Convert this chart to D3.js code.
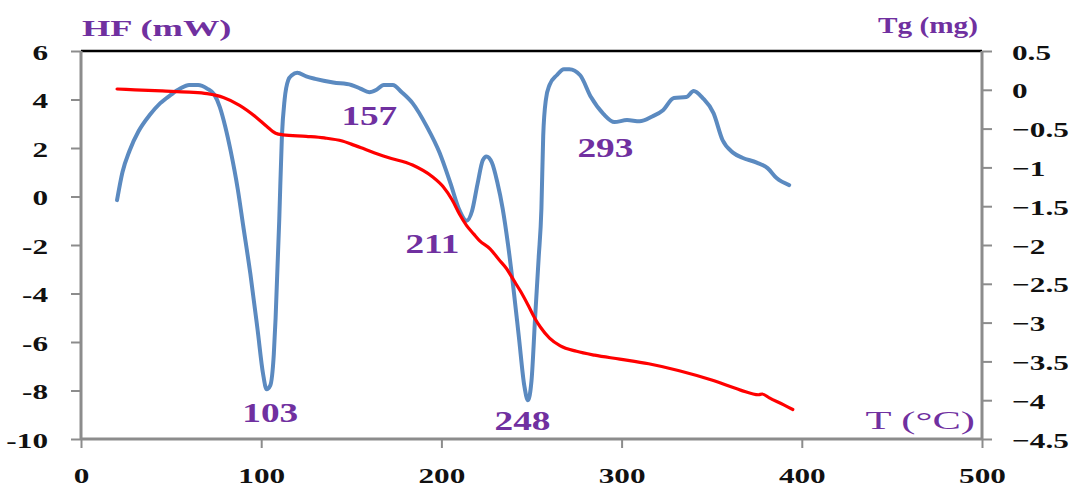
<!DOCTYPE html>
<html><head><meta charset="utf-8">
<script src="https://cdn.jsdelivr.net/npm/d3@7"></script>
<style>body{margin:0;background:#fff}svg{display:block}</style>
</head><body>
<svg id="c" width="1071" height="491"></svg>
<script>
// ---- data ----
const hfT = [20,23,27,32,38,44,50,55,60,65,70,74,77,80,83,87,90,94,98,101,103,105,107,108,110,111.5,113,115,117,120,125,130,140,150,155,160,164,168,173,178,184,192,199,205,210,214,217,220,223,225,228,231,234,237,240,243,246,248,250,252,254,255.5,256.5,258,260,264,268,271,277,283,290,296,303,310,317,323,329,336,340,345,351,356,362,367,375,381,386,393];
const hfV = [-0.15,1.0,1.9,2.7,3.35,3.85,4.2,4.45,4.6,4.6,4.45,4.2,3.7,2.9,1.9,0.3,-1.2,-3.2,-5.5,-7.3,-7.95,-7.8,-6.5,-5.0,-1.0,2.5,4.0,4.8,5.0,5.1,4.95,4.85,4.7,4.6,4.45,4.3,4.4,4.6,4.6,4.3,3.85,2.87,1.8,0.55,-0.56,-1.0,-0.6,0.5,1.5,1.65,1.4,0.6,-0.5,-2.0,-3.8,-5.8,-7.8,-8.4,-7.6,-5.0,-2.5,-0.5,2.5,4.0,4.6,5.0,5.25,5.25,5.0,4.1,3.4,3.07,3.15,3.1,3.3,3.56,4.06,4.1,4.35,4.06,3.44,2.33,1.8,1.6,1.4,1.17,0.76,0.47];
const tgT = [20,30,45,60,70,79,88,97,103,108,112,125,135,145,150,157,165,170,184,195,201,206,210,214,218,221,227,232,236,240,244,248,252,255,260,266,275,285,299,315,332,350,366,376,378,382,390,395];
const tgV = [0.01,0.0,-0.015,-0.03,-0.05,-0.1,-0.2,-0.35,-0.47,-0.56,-0.58,-0.6,-0.62,-0.66,-0.7,-0.76,-0.83,-0.87,-0.97,-1.12,-1.25,-1.42,-1.6,-1.75,-1.86,-1.94,-2.05,-2.19,-2.3,-2.45,-2.6,-2.77,-2.95,-3.06,-3.2,-3.3,-3.37,-3.42,-3.47,-3.53,-3.62,-3.74,-3.87,-3.93,-3.92,-3.97,-4.06,-4.12];
const xTicks = [0,100,200,300,400,500];
const hfTicks = [6,4,2,0,-2,-4,-6,-8,-10];
const tgTicks = [0.5,0,-0.5,-1,-1.5,-2,-2.5,-3,-3.5,-4,-4.5];
const peakLabels = ["103","157","211","248","293"];
const peakLabelT = [105,160,195,245,291];
const peakLabelHF = [-9.3,2.95,-2.35,-9.63,1.63];
const titles = {hf:"HF (mW)", tg:"Tg (mg)", t:"T (°C)"};

// ---- layout ----
const L=81, R=982, T=51, B=439;
const SX=1.42;
const purple="#7030a0", grey="#8c8c8c";
const svg=d3.select("#c");
const x=d3.scaleLinear().domain([0,500]).range([L,R]);
const yL=d3.scaleLinear().domain([-10,6]).range([B,T]);
const yR=d3.scaleLinear().domain([-4.5,0.5]).range([B,T]);

function stretch(sel,sx){
  sel.each(function(){
    const t=d3.select(this);
    const tx=+t.attr("data-x")||0, ty=+t.attr("data-y")||0;
    t.attr("transform",`translate(${tx},${ty}) scale(${sx||SX},1)`);
  });
}

// top border
svg.append("line").attr("x1",L).attr("x2",R).attr("y1",T).attr("y2",T).attr("stroke","#000").attr("stroke-width",2.5);

// axes
const ax=svg.append("g").attr("transform",`translate(0,${B})`)
  .call(d3.axisBottom(x).tickValues(xTicks).tickSize(9).tickFormat(d3.format("d")));
const ayl=svg.append("g").attr("transform",`translate(${L},0)`)
  .call(d3.axisLeft(yL).tickValues(hfTicks).tickSize(10).tickFormat(d=>String(d)));
const ayr=svg.append("g").attr("transform",`translate(${R},0)`)
  .call(d3.axisRight(yR).tickValues(tgTicks).tickSize(10).tickFormat(d=>String(d).replace("-","\u2212")));

[ax,ayl,ayr].forEach(g=>{
  g.select(".domain").attr("stroke",grey).attr("stroke-width",3);
  g.selectAll(".tick line").attr("stroke",grey).attr("stroke-width",2);
  g.selectAll(".tick text").attr("font-family","Liberation Serif, Times New Roman, serif").attr("font-weight","bold")
   .attr("font-size",22).attr("fill","#111").attr("dy",null).attr("x",null).attr("y",null);
});
ax.selectAll(".tick text").attr("text-anchor","middle").attr("data-x",0).attr("data-y",44).call(stretch);
ayl.selectAll(".tick text").attr("text-anchor","end").attr("data-x",-33).attr("data-y",8).call(stretch);
ayr.selectAll(".tick text").attr("text-anchor","start").attr("data-x",30).attr("data-y",8).call(stretch);
ax.select(".domain").attr("d",`M${L},0H${R}`);
ayl.select(".domain").attr("d",`M0,${T}V${B}`);
ayr.select(".domain").attr("d",`M0,${T}V${B}`);

// lines
const hfData=hfT.map((t,i)=>[t,hfV[i]]);
const tgData=tgT.map((t,i)=>[t,tgV[i]]);
svg.append("path").datum(hfData).attr("fill","none").attr("stroke","#5b8ac0").attr("stroke-width",4)
  .attr("stroke-linejoin","round").attr("stroke-linecap","round")
  .attr("d",d3.line().x(d=>x(d[0])).y(d=>yL(d[1])).curve(d3.curveMonotoneX));
svg.append("path").datum(tgData).attr("fill","none").attr("stroke","#ff0000").attr("stroke-width",3.2)
  .attr("stroke-linejoin","round").attr("stroke-linecap","round")
  .attr("d",d3.line().x(d=>x(d[0])).y(d=>yR(d[1])).curve(d3.curveMonotoneX));

// titles
function label(txt,px,py,anchor,size,weight,sx){
  svg.append("text").text(txt).attr("font-family","Liberation Serif, Times New Roman, serif").attr("font-weight",weight)
    .attr("font-size",size).attr("fill",purple).attr("text-anchor",anchor)
    .attr("data-x",px).attr("data-y",py).call(stretch,sx);
}
label(titles.hf,82,36,"start",24,"bold",1.52);
label(titles.tg,978,33,"end",24,"bold",1.22);
label(titles.t,975,429,"end",25,"normal",1.7);
peakLabels.forEach((s,i)=>{
  label(s,x(peakLabelT[i]),yL(peakLabelHF[i]),"middle",27,"bold",1.38);
});
</script>
</body></html>
